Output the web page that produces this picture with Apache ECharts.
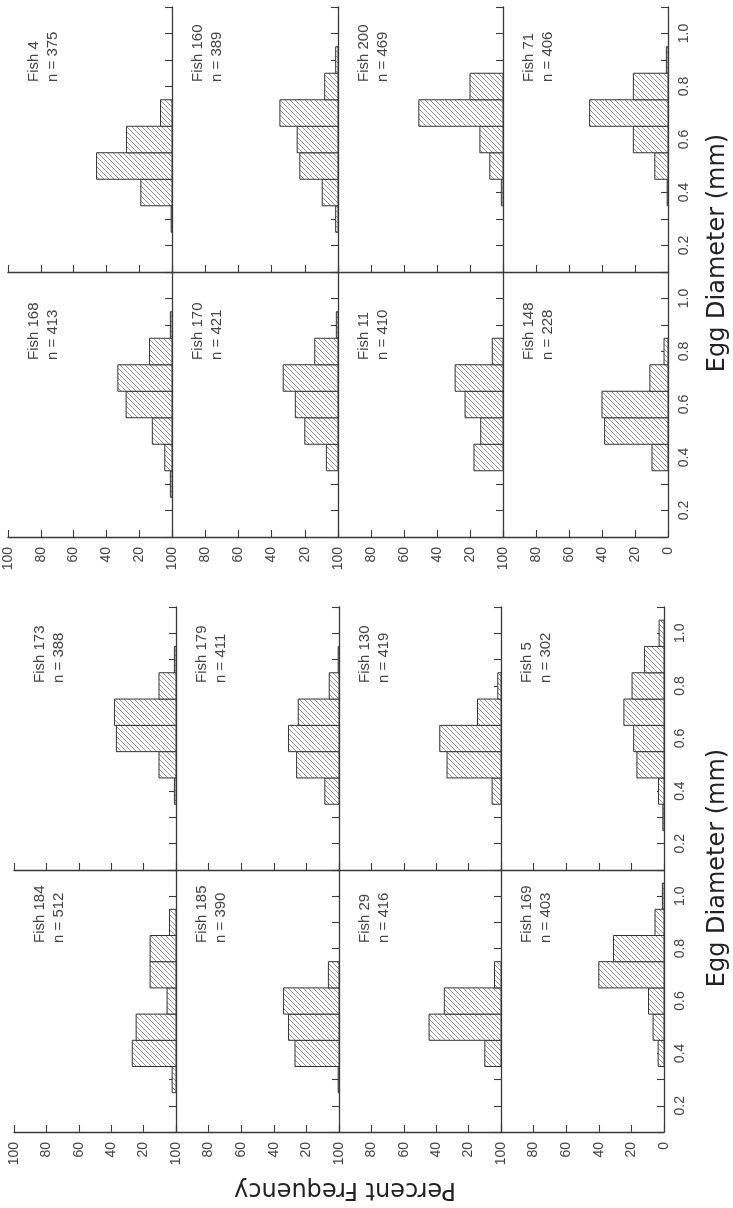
<!DOCTYPE html>
<html><head><meta charset="utf-8">
<script src="https://cdn.jsdelivr.net/npm/echarts@6/dist/echarts.min.js"></script>
<style>html,body{margin:0;padding:0;background:#fff}#c{width:733px;height:1208px}</style>
</head><body><div id="c"></div>
<script>
// Egg diameter bin centres (mm)
const diameterBins = [0.3, 0.4, 0.5, 0.6, 0.7, 0.8, 0.9, 1.0];
const percentTicks = [0, 20, 40, 60, 80, 100];
const diameterTicks = [0.2, 0.4, 0.6, 0.8, 1.0];

// Upper block (original right half), rows = original columns
const upperRow0Names = ['Fish 4', 'Fish 160', 'Fish 200', 'Fish 71'];
const upperRow0N = [375, 389, 469, 406];
const fish4   = [0.5, 19, 46, 27.7, 7, 0, 0, 0];
const fish160 = [1.4, 9.5, 23, 24.6, 35, 8, 1.4, 0];
const fish200 = [0, 1, 8, 14, 51, 20, 0, 0];
const fish71  = [0, 0.5, 8, 21, 47.5, 21, 1, 0];

const upperRow1Names = ['Fish 168', 'Fish 170', 'Fish 11', 'Fish 148'];
const upperRow1N = [413, 421, 410, 228];
const fish168 = [1, 4.4, 12, 28, 33, 13.7, 1, 0];
const fish170 = [0, 7, 20, 25.7, 33, 14, 1, 0];
const fish11  = [0, 17.6, 13.5, 23, 29, 6.5, 0, 0];
const fish148 = [0, 9.7, 38.4, 40, 11, 2.4, 0, 0];

// Lower block (original left half)
const lowerRow0Names = ['Fish 173', 'Fish 179', 'Fish 130', 'Fish 5'];
const lowerRow0N = [388, 411, 419, 302];
const fish173 = [0, 1, 10.5, 36.8, 38, 10.5, 1, 0];
const fish179 = [0, 8.7, 26, 31, 25, 6, 0.5, 0];
const fish130 = [0, 5.5, 33.3, 37.8, 14.5, 2, 0, 0];
const fish5   = [0.7, 3.4, 16.6, 18.6, 24.6, 19.6, 12, 3];

const lowerRow1Names = ['Fish 184', 'Fish 185', 'Fish 29', 'Fish 169'];
const lowerRow1N = [512, 390, 416, 403];
const fish184 = [2.4, 27, 24.6, 5.5, 16, 16, 4, 0];
const fish185 = [0.5, 27, 31, 34, 6.5, 0, 0, 0];
const fish29  = [0, 10, 44.4, 35, 4, 0, 0, 0];
const fish169 = [0, 3.6, 6.7, 9.5, 40, 31, 5.5, 1];

const xTitle = 'Egg Diameter (mm)';
const yTitle = 'Percent Frequency';

// ---------- layout ----------
const blocks = [
  {xs: [8, 172, 338, 503, 668], rows: [7, 272, 537],
   names: [upperRow0Names, upperRow1Names], ns: [upperRow0N, upperRow1N],
   data: [[fish4, fish160, fish200, fish71], [fish168, fish170, fish11, fish148]],
   labelStart: [75, 88], titleY: 253},
  {xs: [14, 176, 339, 501, 664], rows: [607, 870, 1132],
   names: [lowerRow0Names, lowerRow1Names], ns: [lowerRow0N, lowerRow1N],
   data: [[fish173, fish179, fish130, fish5], [fish184, fish185, fish29, fish169]],
   labelStart: [76, 73], titleY: 868}
];

const pc = document.createElement('canvas');
pc.width = 5; pc.height = 5;
const g = pc.getContext('2d');
g.fillStyle = '#fff'; g.fillRect(0, 0, 5, 5);
g.strokeStyle = '#8a8a8a'; g.lineWidth = 0.9;
g.beginPath();
g.moveTo(-1, -1); g.lineTo(6, 6);
g.moveTo(-1, 4); g.lineTo(2, 7);
g.moveTo(4, -1); g.lineTo(7, 2);
g.stroke();
const hatch = {image: pc, repeat: 'repeat'};

const axisColor = '#3a3a3a';
const labelFont = 'Liberation Sans';
const grid = [], xAxis = [], yAxis = [], series = [], graphics = [];
let idx = 0;
blocks.forEach(function (b) {
  for (let r = 0; r < 2; r++) {
    for (let c = 0; c < 4; c++) {
      const left = b.xs[c], width = b.xs[c + 1] - b.xs[c];
      const top = b.rows[r], height = b.rows[r + 1] - b.rows[r];
      grid.push({left: left, top: top, width: width, height: height, containLabel: false});
      const showPct = (r === 1);
      const lastCol = (c === 3);
      xAxis.push({
        gridIndex: idx, type: 'value', min: 0, max: 100, interval: 20, inverse: true,
        position: 'bottom',
        axisLine: {show: true, onZero: false, lineStyle: {color: axisColor, width: 1.3}},
        axisTick: {show: true, inside: true, length: 7, lineStyle: {color: axisColor, width: 1.1}},
        splitLine: {show: false},
        axisLabel: {
          show: showPct, rotate: 90, margin: 10, fontSize: 14, fontFamily: labelFont, color: '#444',
          showMinLabel: true, showMaxLabel: true,
          formatter: function (v) { return (v === 0 && !lastCol) ? '' : String(v); }
        }
      });
      yAxis.push({
        gridIndex: idx, type: 'value', min: 0.1, max: 1.1, interval: 0.1, position: 'right',
        axisLine: {show: true, onZero: false, lineStyle: {color: axisColor, width: 1.3}},
        axisTick: {show: true, inside: true, length: 7, lineStyle: {color: axisColor, width: 1.1}},
        splitLine: {show: false},
        axisLabel: {
          show: lastCol, rotate: 90, margin: 9, fontSize: 14, fontFamily: labelFont, color: '#444',
          showMinLabel: true, showMaxLabel: true,
          formatter: function (v) {
            const k = Math.round(v * 10);
            return (k % 2 === 0 && k >= 2 && k <= 10) ? (k / 10).toFixed(1) : '';
          }
        }
      });
      const vals = b.data[r][c];
      const pts = [];
      diameterBins.forEach(function (d, i) { if (vals[i] > 0) pts.push([d, vals[i]]); });
      series.push({
        type: 'custom', xAxisIndex: idx, yAxisIndex: idx,
        encode: {x: 1, y: 0}, data: pts, silent: true,
        renderItem: function (params, api) {
          const d = api.value(0), v = api.value(1);
          const p0 = api.coord([0, d - 0.05]);
          const p1 = api.coord([v, d + 0.05]);
          return {
            type: 'rect',
            shape: {x: Math.min(p0[0], p1[0]), y: Math.min(p0[1], p1[1]),
                    width: Math.abs(p1[0] - p0[0]), height: Math.abs(p1[1] - p0[1])},
            style: {fill: hatch, stroke: '#333', lineWidth: 1}
          };
        }
      });
      graphics.push({
        type: 'text', x: left + 35, y: top + b.labelStart[r], rotation: Math.PI / 2, z: 10,
        style: {
          text: b.names[r][c] + '\nn = ' + b.ns[r][c],
          font: '15px "Liberation Sans"', fill: '#444', lineHeight: 19,
          align: 'left', verticalAlign: 'middle', textAlign: 'left', textVerticalAlign: 'middle'
        }
      });
      idx++;
    }
  }
  graphics.push({
    type: 'text', x: 718, y: b.titleY, rotation: Math.PI / 2, z: 10,
    style: {text: xTitle, font: '24px "DejaVu Sans"', fill: '#222',
            align: 'center', verticalAlign: 'middle', textAlign: 'center', textVerticalAlign: 'middle'}
  });
});
graphics.push({
  type: 'text', x: 345, y: 1189, rotation: Math.PI, z: 10,
  style: {text: yTitle, font: '24px "DejaVu Sans"', fill: '#222',
          align: 'center', verticalAlign: 'middle', textAlign: 'center', textVerticalAlign: 'middle'}
});

const chart = echarts.init(document.getElementById('c'), null, {renderer: 'canvas'});
chart.setOption({
  backgroundColor: '#fff', animation: false,
  grid: grid, xAxis: xAxis, yAxis: yAxis, series: series,
  graphic: {elements: graphics}
});
</script></body></html>
